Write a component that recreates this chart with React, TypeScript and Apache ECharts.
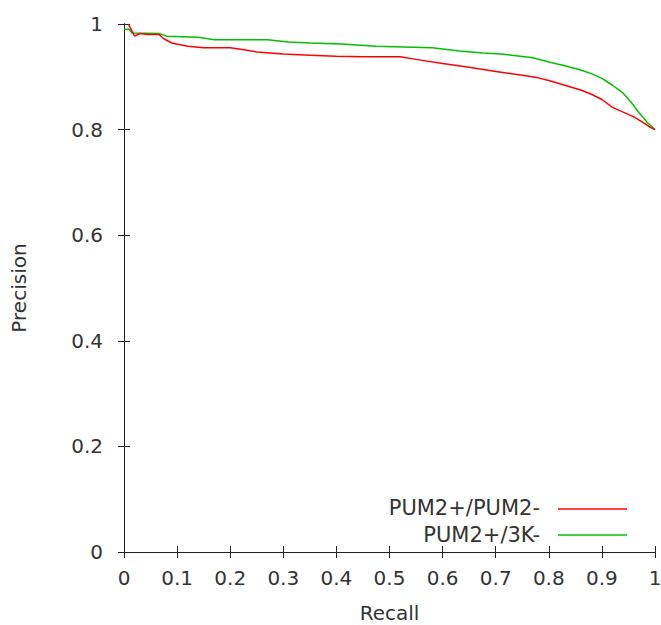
import React, { useEffect, useRef } from "react";
import * as echarts from "echarts";

const xTicks = [0, 0.1, 0.2, 0.3, 0.4, 0.5, 0.6, 0.7, 0.8, 0.9, 1];
const yTicks = [0, 0.2, 0.4, 0.6, 0.8, 1];
const seriesNames = ["PUM2+/PUM2-", "PUM2+/3K-"];
const seriesColors = ["#ff0000", "#00c000"];

const redCurve: [number, number][] = [
  [0.008, 1.0], [0.02, 0.977], [0.03, 0.982], [0.045, 0.98], [0.066, 0.98],
  [0.075, 0.972], [0.09, 0.964], [0.12, 0.958], [0.15, 0.955], [0.2, 0.955],
  [0.22, 0.952], [0.25, 0.947], [0.3, 0.943], [0.35, 0.941], [0.4, 0.939],
  [0.45, 0.938], [0.52, 0.938], [0.55, 0.933], [0.6, 0.925], [0.65, 0.918],
  [0.7, 0.91], [0.75, 0.903], [0.78, 0.898], [0.8, 0.893], [0.83, 0.884],
  [0.86, 0.875], [0.88, 0.867], [0.9, 0.857], [0.92, 0.842], [0.94, 0.833],
  [0.96, 0.824], [0.975, 0.815], [0.99, 0.805], [1.0, 0.8],
];

const greenCurve: [number, number][] = [
  [0, 0.99], [0.01, 0.99], [0.015, 0.983], [0.066, 0.982], [0.08, 0.977],
  [0.14, 0.975], [0.17, 0.97], [0.27, 0.97], [0.31, 0.966], [0.35, 0.964],
  [0.41, 0.962], [0.475, 0.958], [0.58, 0.955], [0.632, 0.949], [0.676, 0.945],
  [0.71, 0.943], [0.73, 0.941], [0.77, 0.936], [0.8, 0.928], [0.83, 0.921],
  [0.86, 0.913], [0.88, 0.906], [0.9, 0.897], [0.92, 0.884], [0.94, 0.869],
  [0.955, 0.852], [0.966, 0.837], [0.985, 0.814], [1.0, 0.8],
];

const FONT = "DejaVu Sans";
const TEXT = "#333";

export default function App() {
  const ref = useRef<HTMLDivElement>(null);
  useEffect(() => {
    if (!ref.current) return;
    const chart = echarts.init(ref.current, null, { renderer: "svg" });
    const axisLine = { show: true, lineStyle: { color: "#222", width: 1 } };
    const tick = { show: true, inside: true, length: 6, lineStyle: { color: "#222" } };
    const fmt = (v: number) => String(Math.round(v * 10) / 10);
    chart.setOption({
      animation: false,
      backgroundColor: "#fff",
      grid: { left: 124, right: 6, top: 24, bottom: 73, containLabel: false, outerBoundsMode: "none" },
      xAxis: [
        {
          type: "value", min: xTicks[0], max: xTicks[xTicks.length - 1], interval: 0.1,
          position: "bottom",
          axisLine, axisTick: tick, splitLine: { show: false },
          axisLabel: { margin: 16, fontFamily: FONT, fontSize: 20, color: TEXT, formatter: fmt },
          name: "Recall", nameLocation: "middle", nameGap: 51,
          nameTextStyle: { fontFamily: FONT, fontSize: 20, lineHeight: 20, color: TEXT },
        },
        {
          type: "value", min: xTicks[0], max: xTicks[xTicks.length - 1], interval: 0.1,
          position: "top",
          axisLine, axisTick: tick, splitLine: { show: false }, axisLabel: { show: false },
        },
      ],
      yAxis: [
        {
          type: "value", min: yTicks[0], max: yTicks[yTicks.length - 1], interval: 0.2,
          position: "left",
          axisLine, axisTick: tick, splitLine: { show: false },
          axisLabel: { margin: 21, fontFamily: FONT, fontSize: 20, color: TEXT, formatter: fmt },
          name: "Precision", nameLocation: "middle", nameGap: 95,
          nameTextStyle: { fontFamily: FONT, fontSize: 20, color: TEXT },
        },
        {
          type: "value", min: yTicks[0], max: yTicks[yTicks.length - 1], interval: 0.2,
          position: "right",
          axisLine, axisTick: tick, splitLine: { show: false }, axisLabel: { show: false },
        },
      ],
      series: [
        {
          name: seriesNames[0], type: "line", data: redCurve, showSymbol: false,
          lineStyle: { color: seriesColors[0], width: 1.5 }, z: 3,
        },
        {
          name: seriesNames[1], type: "line", data: greenCurve, showSymbol: false,
          lineStyle: { color: seriesColors[1], width: 1.5 }, z: 2,
        },
      ],
      graphic: [
        {
          type: "text", x: 540, y: 508,
          style: { text: seriesNames[0], textAlign: "right", textVerticalAlign: "middle", font: `21px "${FONT}"`, fill: TEXT },
        },
        {
          type: "text", x: 540, y: 535,
          style: { text: seriesNames[1], textAlign: "right", textVerticalAlign: "middle", font: `21px "${FONT}"`, fill: TEXT },
        },
        { type: "line", shape: { x1: 558, y1: 509, x2: 627, y2: 509 }, style: { stroke: seriesColors[0], lineWidth: 1.5 } },
        { type: "line", shape: { x1: 558, y1: 535, x2: 627, y2: 535 }, style: { stroke: seriesColors[1], lineWidth: 1.5 } },
      ],
    });
    return () => chart.dispose();
  }, []);
  return (
    <div
      ref={ref}
      style={{ position: "fixed", left: 0, top: 0, width: 661, height: 625, background: "#fff" }}
    />
  );
}
